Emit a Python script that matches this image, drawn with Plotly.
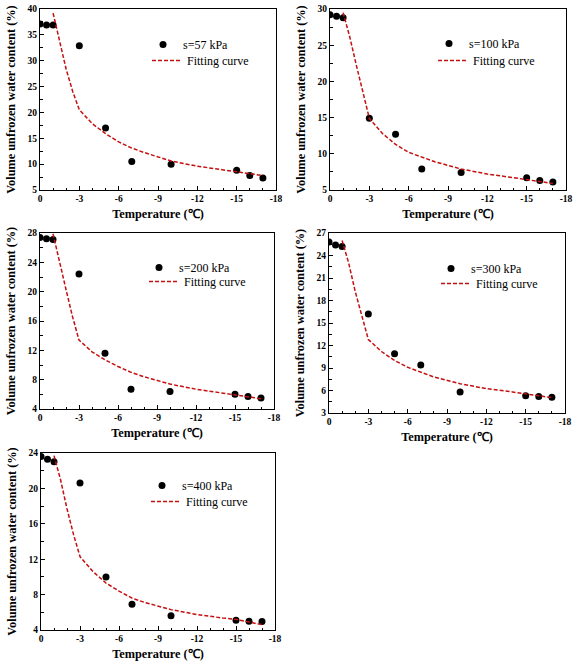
import plotly.graph_objects as go

W, H = 581, 662

temps = [0, -0.5, -1, -3, -5, -7, -10, -15, -16, -17]
s57 = [37.1, 36.9, 36.9, 32.9, 17.0, 10.5, 10.0, 8.8, 7.8, 7.3]
s100 = [29.2, 29.0, 28.8, 14.9, 12.7, 7.9, 7.4, 6.7, 6.3, 6.1]
s200 = [27.4, 27.2, 27.1, 22.4, 11.6, 6.7, 6.4, 6.0, 5.7, 5.5]
s300 = [25.8, 25.4, 25.2, 16.2, 10.9, 9.4, 5.8, 5.3, 5.2, 5.1]
s400 = [23.6, 23.3, 23.0, 20.6, 10.0, 6.9, 5.6, 5.1, 5.0, 4.95]

curve_t = [-1, -1.5, -2, -2.5, -3, -4, -5, -6, -7, -8, -10, -12, -14, -15, -16, -17]
fit57 = [39.2, 34.0, 28.3, 24.0, 20.5, 17.8, 15.9, 14.3, 13.1, 12.2, 10.6, 9.6, 8.9, 8.6, 8.2, 7.8]
fit100 = [29.5, 26.2, 22.3, 18.4, 14.9, 12.8, 11.3, 10.2, 9.5, 8.9, 7.9, 7.2, 6.7, 6.4, 6.1, 5.9]
fit200 = [27.9, 24.3, 20.3, 16.6, 13.4, 11.8, 10.7, 9.8, 9.0, 8.4, 7.4, 6.7, 6.2, 6.0, 5.7, 5.4]
fit300 = [26.0, 23.0, 19.2, 15.8, 12.8, 11.2, 10.0, 9.1, 8.4, 7.8, 6.9, 6.25, 5.8, 5.5, 5.3, 5.05]
fit400 = [23.7, 21.0, 17.7, 14.8, 12.3, 10.6, 9.3, 8.4, 7.6, 7.1, 6.3, 5.75, 5.35, 5.2, 4.9, 4.6]

labels = ["s=57 kPa", "s=100 kPa", "s=200 kPa", "s=300 kPa", "s=400 kPa"]
series = [s57, s100, s200, s300, s400]
fits = [fit57, fit100, fit200, fit300, fit400]

x_ticks = [0, -3, -6, -9, -12, -15, -18]
x_ticktext = ["0", "-3", "-6", "-9", "-12", "-15", "-18"]
y_ranges = [(5, 40, 5), (5, 30, 5), (4, 28, 4), (3, 27, 3), (4, 24, 4)]

# pixel boxes for each panel: (left, right, top, bottom)
boxes = [(40, 276, 9, 190), (330, 566, 9, 190), (40, 274, 233, 409),
         (329, 565, 233, 413), (41, 275, 453, 630)]
# legend anchor pixels (left, top): marker entry, line entry
mark_leg = [(143, 30), (429, 29), (139, 253), (431, 254), (142, 471)]
line_leg = [(147, 46), (433, 46), (144, 267), (436, 269), (146, 487)]

FONT = "Liberation Serif"
fig = go.Figure()
layout = dict(width=W, height=H, margin=dict(l=0, r=0, t=0, b=0),
              paper_bgcolor="white", plot_bgcolor="white",
              font=dict(family=FONT, color="black"), showlegend=True)


def leg_cfg(pos):
    lx, ly = pos
    return dict(x=lx / W, y=1 - ly / H, xanchor="left", yanchor="top",
                bgcolor="rgba(0,0,0,0)", font=dict(family=FONT, size=12),
                itemwidth=30, tracegroupgap=0)


for i in range(5):
    n = "" if i == 0 else str(i + 1)
    xa, ya = "x" + n, "y" + n
    legm = "legend" if i == 0 else "legend" + str(2 * i + 1)
    legl = "legend" + str(2 * i + 2)
    fig.add_trace(go.Scatter(x=temps, y=series[i], mode="markers", name=labels[i],
                             marker=dict(color="black", size=7),
                             xaxis=xa, yaxis=ya, legend=legm))
    fig.add_trace(go.Scatter(x=curve_t, y=fits[i], mode="lines", name="Fitting curve",
                             line=dict(color="#C41010", width=1.5, dash="4px,2px"),
                             xaxis=xa, yaxis=ya, legend=legl))
    l, r, t, b = boxes[i]
    y0, y1, yd = y_ranges[i]
    layout["xaxis" + n] = dict(
        domain=[l / W, r / W], anchor=ya, range=[0, -18],
        tickvals=x_ticks, ticktext=x_ticktext,
        ticks="inside", ticklen=4, tickwidth=1, tickcolor="black",
        minor=dict(dtick=1, tick0=0, ticks="inside", ticklen=2.5, tickcolor="black"),
        showline=True, linecolor="black", linewidth=1, mirror=True,
        showgrid=False, zeroline=False, automargin=False,
        tickfont=dict(family=FONT, size=9.5, weight="bold"),
        title=dict(text="Temperature (\u2103)", standoff=5,
                   font=dict(family=FONT, size=12.3, weight="bold")))
    layout["yaxis" + n] = dict(
        domain=[1 - b / H, 1 - t / H], anchor=xa, range=[y0, y1],
        tick0=y0, dtick=yd,
        ticks="inside", ticklen=4, tickwidth=1, tickcolor="black",
        minor=dict(dtick=yd / 2, ticks="inside", ticklen=2.5, tickcolor="black"),
        showline=True, linecolor="black", linewidth=1, mirror=True,
        showgrid=False, zeroline=False, automargin=False,
        tickfont=dict(family=FONT, size=9.5, weight="bold"),
        title=dict(text="Volume unfrozen water content (%)", standoff=9,
                   font=dict(family=FONT, size=12.3, weight="bold")))
    layout[legm] = leg_cfg(mark_leg[i])
    layout[legl] = leg_cfg(line_leg[i])

fig.update_layout(**layout)
fig.write_html("out.html", config={"displayModeBar": False},
               post_script="document.body.style.margin='0px';")
